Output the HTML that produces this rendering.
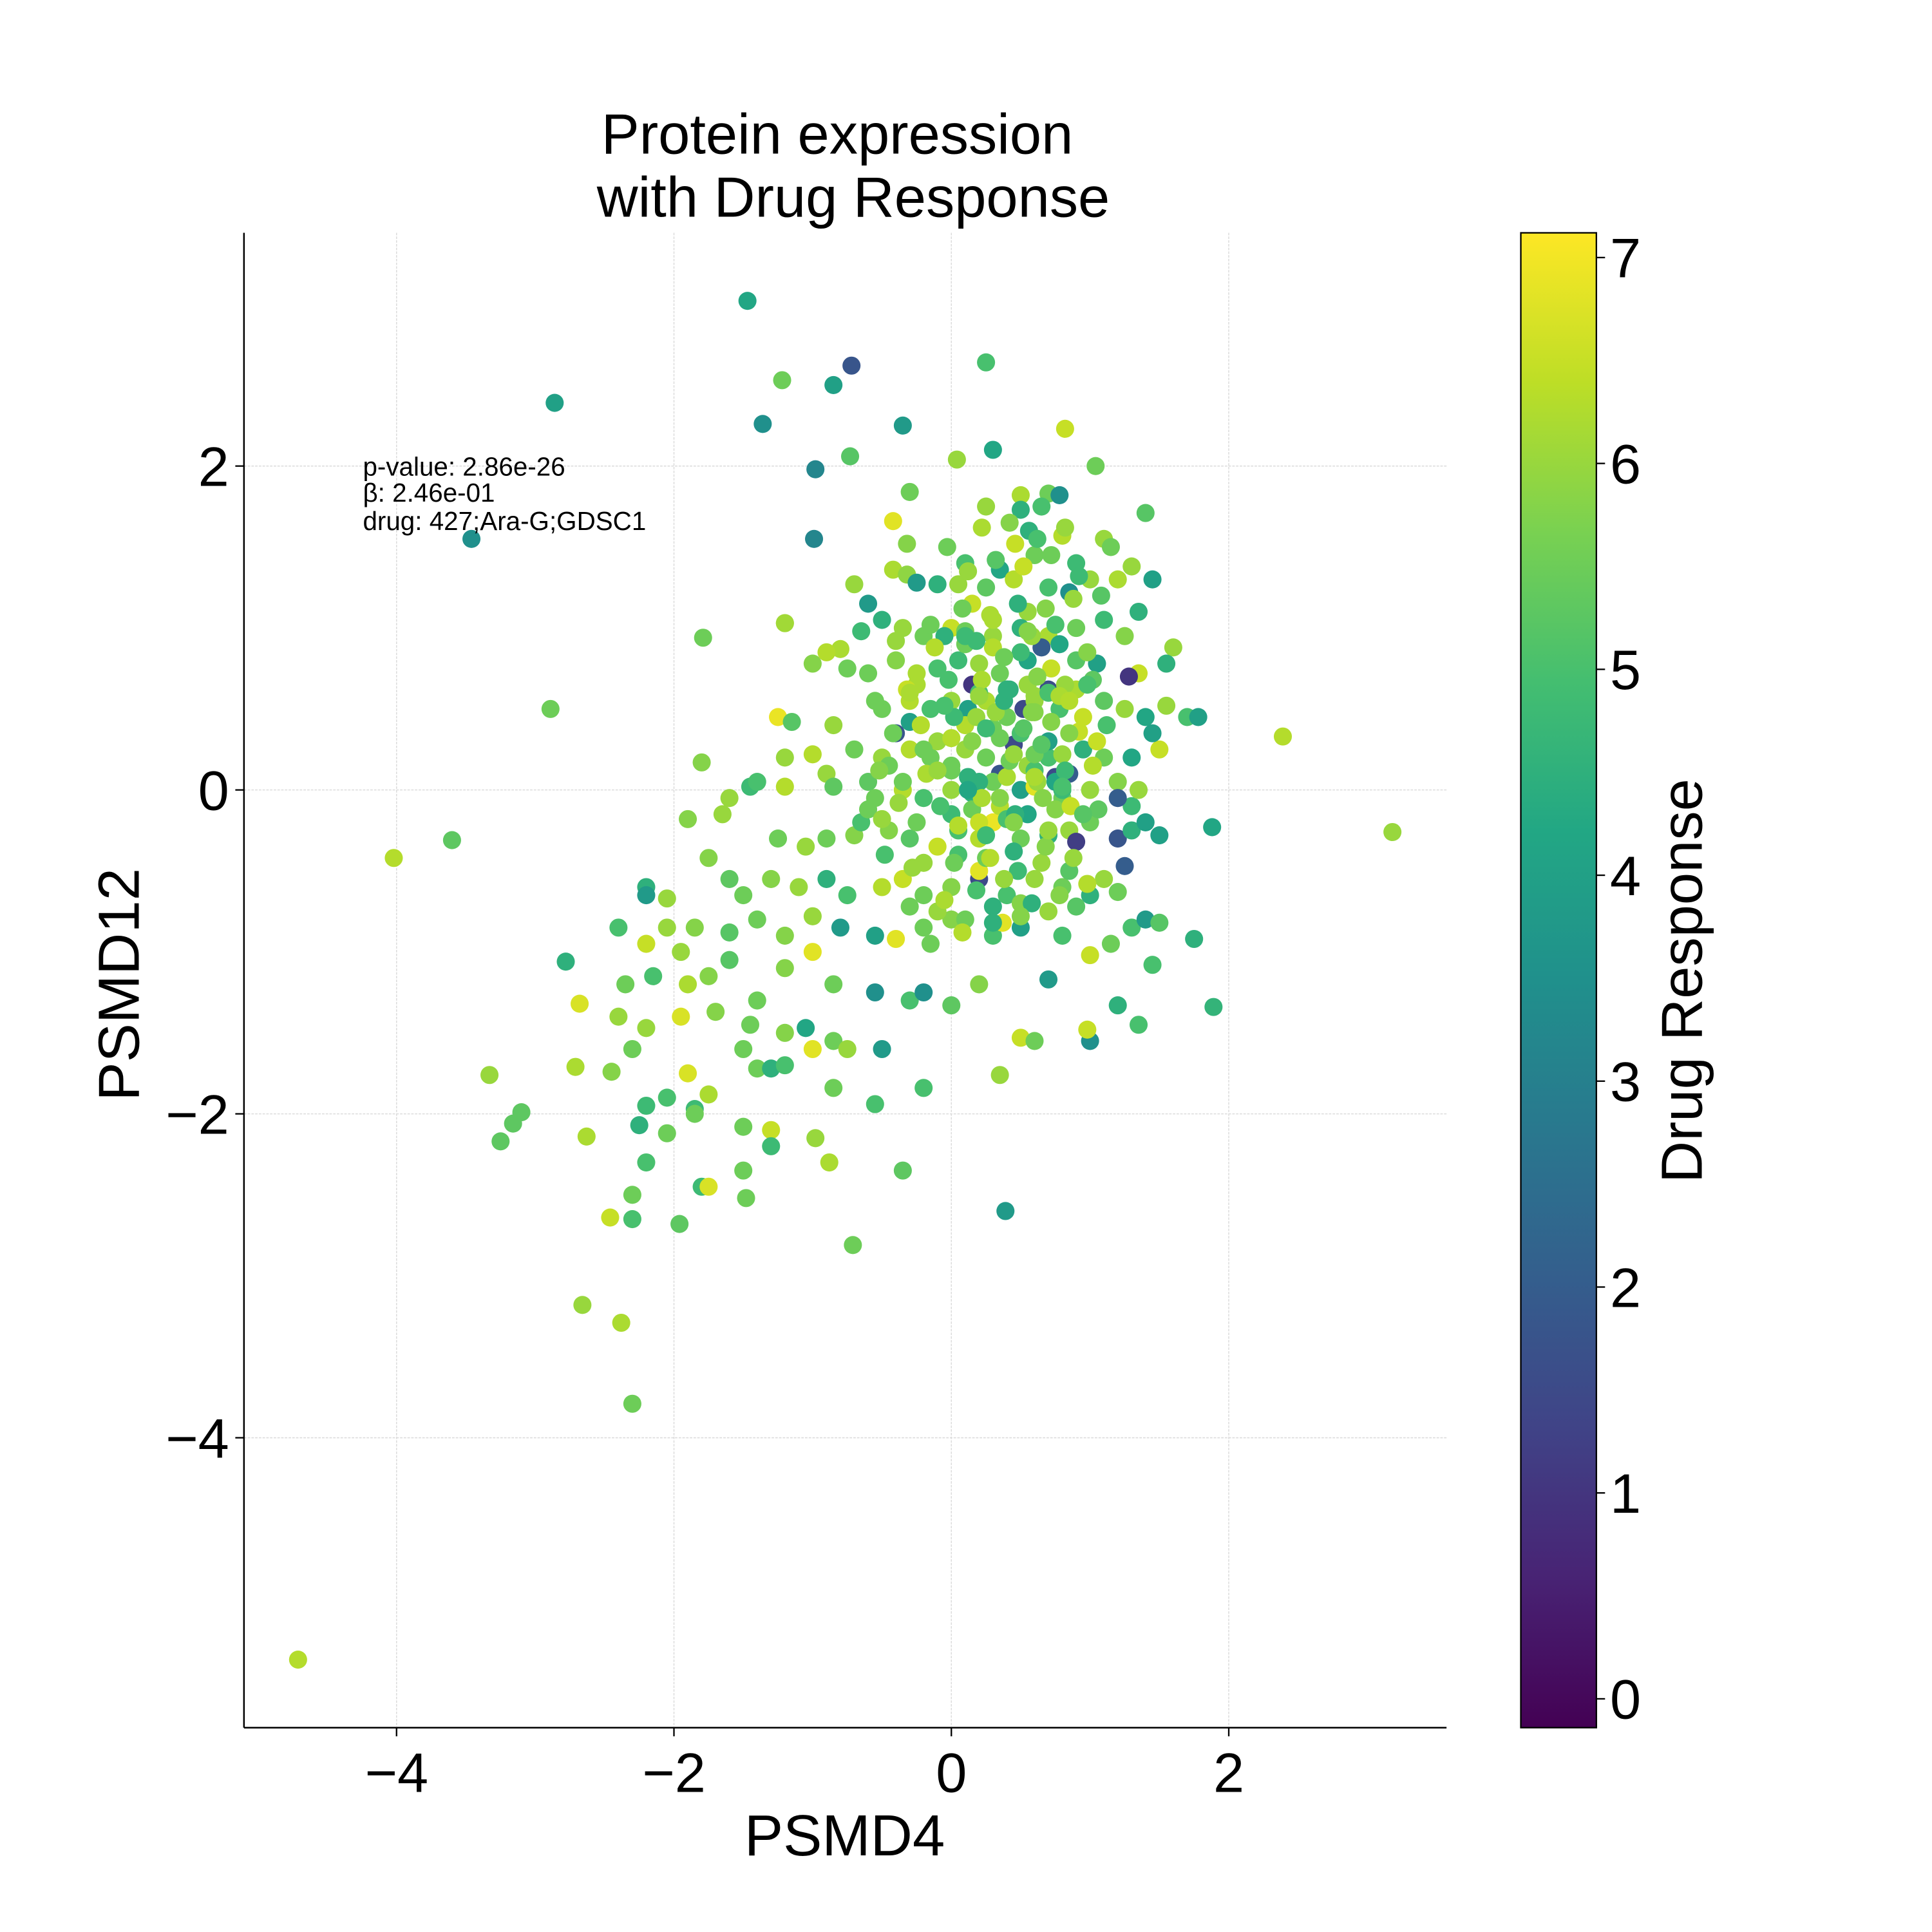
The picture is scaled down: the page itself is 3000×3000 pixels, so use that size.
<!DOCTYPE html>
<html><head><meta charset="utf-8"><style>
html,body{margin:0;padding:0;background:#fff}
svg{display:block}
text{font-family:"Liberation Sans",sans-serif;fill:#000}
</style></head><body>
<svg id="chart" width="3000" height="3000" viewBox="0 0 1560 1560" xmlns="http://www.w3.org/2000/svg">
<defs><linearGradient id="viridis" x1="0" y1="1" x2="0" y2="0"></linearGradient></defs>
<rect width="1560" height="1560" fill="#fff"/>
<g id="grid"></g>
<g id="points"></g>
<g id="axes"></g>
<text x="676" y="124" font-size="46" text-anchor="middle">Protein expression</text>
<text x="689" y="175" font-size="46" text-anchor="middle">with Drug Response</text>
<text x="682" y="1498" font-size="47" text-anchor="middle">PSMD4</text>
<text x="112" y="795" font-size="47" text-anchor="middle" transform="rotate(-90 112 795)">PSMD12</text>
<g font-size="21">
<text x="293" y="384">p-value: 2.86e-26</text>
<text x="293" y="405">β: 2.46e-01</text>
<text x="293" y="428">drug: 427;Ara-G;GDSC1</text>
</g>
<g id="cbar"></g>
<text x="1374" y="792" font-size="47" text-anchor="middle" transform="rotate(-90 1374 792)">Drug Response</text>
</svg>
<script>
const xs=[-4.71,-4.02,-3.6,-3.46,-2.86,-2.89,-1.47,-1.22,-0.72,-0.85,-1.36,0.25,-0.73,-0.98,-0.99,-0.35,0.04,0.3,0.82,1.04,2.39,3.18,1.88,1.89,0.39,-0.71,-2.3,-2.38,-2.66,-2.46,-1.96,-3.25,-3.16,-3.1,-3.33,-2.63,-2.71,-2.78,-2.68,-1.79,-1.2,
0.7,0.5,0.78,-0.3,0.65,0.25,1.4,0.5,0.8,
-0.42,-0.32,0.46,0.56,1.1,1.15,-0.03,0.1,0.6,0.9,1.3,0.35,
-0.7,-0.42,-0.32,-0.25,-0.1,0.05,0.25,0.45,0.7,0.85,1.0,1.2,1.45,-0.6,0.15,0.55,
-1.2,-0.5,-0.35,-0.2,0.0,0.1,0.3,0.5,0.7,0.9,1.1,1.35,1.25,-0.8,-0.65,-1.0,-0.9,
-0.6,-0.4,-0.25,-0.1,0.05,0.2,0.35,0.55,0.72,0.9,1.05,1.35,1.6,1.55,-0.75,0.15,0.65,
-1.25,-1.15,-0.85,-0.5,-0.3,-0.15,0.0,0.12,0.25,0.4,0.52,0.6,0.78,0.95,1.1,1.25,1.4,1.55,1.7,1.78,-0.3,0.7,1.28,
-1.8,-1.45,-1.4,-1.2,-1.0,-0.7,-0.5,-0.4,-0.3,-0.15,0.0,0.1,0.25,0.45,0.55,0.7,0.85,0.95,1.1,1.3,1.5,1.45,-0.9,-0.6,0.35,0.75,
-1.6,-1.2,-0.85,-0.55,-0.35,-0.2,0.0,0.15,0.3,0.5,0.6,0.8,1.0,1.2,1.3,1.35,1.2,
-1.9,-1.65,-1.25,-1.05,-0.9,-0.7,-0.45,-0.3,-0.1,0.05,0.2,0.3,0.5,0.7,0.85,1.0,1.2,1.3,1.4,1.5,1.25,0.2,0.9,
-2.2,-2.2,-2.05,-1.75,-1.6,-1.5,-1.3,-1.1,-0.9,-0.75,-0.5,-0.35,-0.2,0.0,0.2,0.4,0.6,0.8,1.0,1.2,1.1,
-2.4,-2.2,-2.05,-1.85,-1.6,-1.4,-1.2,-1.0,-0.8,-0.55,-0.4,-0.2,0.0,0.3,0.37,0.5,0.8,1.0,1.15,1.3,1.4,1.5,1.75,
-2.35,-2.15,-1.95,-1.9,-1.75,-1.6,-1.4,-1.2,-1.0,-0.85,-0.55,-0.3,-0.2,0.0,0.2,0.5,0.7,1.0,0.98,1.35,1.45,1.2,
-2.4,-2.2,-1.95,-1.7,-1.45,-1.2,-1.05,-0.85,-0.5,-0.75,-1.0,0.35,0.6,
-2.45,-2.3,-2.2,-2.05,-1.9,-1.85,-1.75,-1.5,-1.4,-1.3,-1.2,-0.85,-0.55,-0.2,
-2.25,-2.05,-1.85,-1.5,-1.3,-1.3,-0.98,-0.88,-0.35,-2.2,-2.3,-2.3,-1.8,-1.75,-1.48,-1.5,
0.2,0.4,0.6,0.1,0.3,0.5,0.7,-0.1,0.0,0.2,0.4,0.6,0.8,0.15,0.35,0.55,0.75,-0.2,0.05,0.25,0.45,0.65,0.85,0.1,0.3,0.5,0.7,0.9,-0.05,0.15,0.35,0.55,0.75,0.2,0.4,0.6,0.8,0.0,-0.25,-0.45,-0.65,-0.1,0.1,0.3,0.5,
0.08,0.28,0.48,0.68,0.88,1.08,-0.12,0.18,0.38,0.58,0.78,0.98,-0.32,-0.02,0.22,0.42,0.62,0.82,1.02,-0.42,-0.22,0.02,0.32,0.52,0.72,0.92,1.12,-0.52,-0.18,0.12,0.42,0.62,0.82,1.02,-0.6,-0.38,-0.08,0.22,0.46,0.66,0.86,1.06,-0.48,-0.28,0.02,0.28,0.48,0.68,0.88,-0.3,-0.05,0.18,0.38,0.58,0.78,0.98,0.12,0.32,0.52,0.72,0.92,0.22,0.42,0.62,0.82,-0.15,0.08,0.3,0.5,0.7,0.9,
0.18,0.38,0.58,0.78,0.98,-0.2,0.0,0.25,0.45,0.65,0.85,1.05,-0.35,-0.1,0.12,0.35,0.6,0.8,-0.5,-0.25,0.05,0.25,0.45,0.7,0.95,-0.55,-0.3,-0.05,0.2,0.4,0.6,0.85,-0.4,-0.15,0.1,0.3,0.55,0.75];
const ys=[-5.37,-0.42,-0.31,1.55,2.39,0.5,3.02,2.53,2.62,2.5,2.26,2.64,2.06,1.98,1.55,2.25,2.04,2.1,2.23,2.0,0.33,-0.26,-0.23,-1.34,-2.6,-2.81,-3.79,-3.29,-3.18,-2.64,-2.68,-2.17,-2.06,-1.99,-1.76,-2.14,-1.71,-1.06,-1.32,0.94,1.03,
1.83,1.82,1.82,1.84,1.75,1.75,1.71,1.73,1.57,
1.66,1.52,1.52,1.6,1.55,1.5,1.5,1.4,1.45,1.4,1.38,1.36,
1.27,1.36,1.33,1.28,1.27,1.27,1.25,1.3,1.25,1.22,1.3,1.3,1.3,1.15,1.15,1.1,
1.03,1.05,1.0,0.95,1.0,0.98,0.95,1.0,0.95,1.0,1.05,1.1,0.95,0.87,0.98,0.78,0.85,
0.72,0.8,0.72,0.75,0.8,0.78,0.72,0.8,0.75,0.8,0.78,0.72,0.88,0.78,0.75,0.65,0.88,
0.45,0.42,0.4,0.5,0.55,0.5,0.55,0.5,0.55,0.45,0.5,0.55,0.5,0.45,0.55,0.5,0.45,0.52,0.45,0.45,0.42,0.62,0.7,
0.17,0.02,0.05,0.2,0.22,0.25,0.2,0.35,0.25,0.2,0.15,0.25,0.2,0.28,0.15,0.2,0.1,0.25,0.2,0.2,0.25,0.35,0.1,0.05,0.1,0.08,
-0.05,0.02,0.02,-0.05,0.0,-0.05,0.0,-0.02,0.05,0.0,0.02,-0.05,0.0,0.05,-0.1,0.0,-0.05,
-0.18,-0.15,-0.3,-0.35,-0.3,-0.28,-0.25,-0.3,-0.35,-0.25,-0.3,-0.2,-0.3,-0.28,-0.25,-0.2,-0.3,-0.25,-0.2,-0.28,-0.47,-0.55,-0.32,
-0.6,-0.65,-0.67,-0.42,-0.55,-0.65,-0.55,-0.6,-0.55,-0.65,-0.6,-0.55,-0.65,-0.6,-0.5,-0.65,-0.55,-0.6,-0.65,-0.63,-0.55,
-0.85,-0.95,-0.85,-0.85,-0.88,-0.8,-0.9,-0.78,-0.85,-0.9,-0.92,-0.85,-0.8,-0.9,-0.82,-0.85,-0.9,-1.02,-0.95,-0.85,-0.8,-0.82,-0.92,
-1.2,-1.15,-1.0,-1.2,-1.15,-1.05,-1.3,-1.1,-1.0,-1.2,-1.25,-1.3,-1.25,-1.33,-1.2,-1.53,-1.17,-1.55,-1.48,-1.45,-1.08,-1.33,
-1.4,-1.47,-1.4,-1.37,-1.45,-1.5,-1.47,-1.55,-1.6,-1.6,-1.6,-1.76,-1.55,
-1.74,-1.6,-1.95,-1.9,-1.75,-1.97,-1.88,-1.6,-1.72,-1.72,-1.7,-1.84,-1.94,-1.84,
-2.07,-2.12,-2.0,-2.08,-2.1,-2.2,-2.15,-2.3,-2.35,-2.3,-2.5,-2.65,-2.45,-2.45,-2.52,-2.35,
0.6,0.62,0.58,0.4,0.38,0.35,0.3,0.3,0.12,0.05,0.08,0.12,0.0,-0.12,-0.1,-0.15,-0.12,-0.45,-0.4,-0.42,-0.38,-0.45,-0.5,0.9,0.88,0.85,0.6,0.62,0.95,0.3,0.32,0.65,0.05,-0.2,-0.18,0.22,0.22,-0.15,0.65,0.15,-0.2,-0.75,-0.8,-0.72,-0.7,
1.12,1.08,1.15,1.12,1.18,1.2,0.88,0.92,0.82,0.95,0.9,0.85,0.62,0.68,0.68,0.62,0.7,0.65,0.68,0.35,0.4,0.45,0.48,0.38,0.42,0.36,0.4,0.12,0.1,0.08,0.18,0.05,0.12,0.15,-0.12,-0.08,-0.1,-0.05,-0.15,-0.05,-0.1,-0.12,-0.4,-0.48,-0.45,-0.42,-0.5,-0.35,-0.42,-0.72,-0.68,-0.62,-0.55,-0.7,-0.65,-0.58,1.35,1.42,1.38,1.45,1.32,1.62,1.65,1.55,1.62,-0.95,-0.88,-0.82,-0.78,-0.75,-0.72,
0.45,0.55,0.48,0.58,0.65,0.25,0.32,0.38,0.22,0.28,0.35,0.3,0.05,0.12,0.0,-0.05,0.08,0.02,-0.18,-0.2,-0.22,-0.28,-0.2,-0.25,-0.15,0.55,0.6,0.52,0.58,0.62,0.48,0.55,0.92,1.02,0.95,1.05,0.98,1.02];
const cs=[6.3,6.3,5.3,3.5,4.0,5.5,4.2,5.5,1.8,4.0,3.5,5.0,5.2,3.2,3.2,3.8,6.0,4.2,6.5,5.5,6.3,6.0,4.2,4.6,3.8,5.5,5.5,6.2,6.0,6.5,5.3,5.3,5.3,5.3,6.0,6.2,6.2,4.5,6.7,5.5,6.1,
5.5,6.2,3.5,5.5,5.0,6.0,5.2,4.5,6.3,
6.8,5.8,6.5,4.5,6.0,5.5,5.5,5.0,5.5,4.8,6.0,4.2,
6.0,6.2,5.9,3.8,4.5,6.0,5.3,6.3,5.0,3.5,6.0,6.2,4.0,3.8,6.5,6.0,
6.1,4.5,6.0,5.5,6.5,5.5,6.0,4.5,6.2,5.5,4.8,4.5,5.8,6.2,4.8,5.8,6.3,
5.5,5.8,6.2,5.0,4.8,6.0,5.5,4.2,6.5,5.2,4.0,6.5,6.0,4.5,5.5,1.0,2.0,
6.9,5.2,6.0,5.5,6.3,5.0,6.0,4.0,6.2,5.5,1.5,6.0,5.0,6.5,5.3,6.0,4.2,6.0,5.0,4.0,4.0,1.6,1.0,
5.8,4.8,5.0,6.0,6.3,5.5,6.0,1.8,6.3,5.5,5.5,6.0,5.5,1.5,6.0,5.0,2.0,4.5,5.5,4.2,6.5,4.0,6.0,5.3,1.8,1.5,
6.0,6.3,5.3,5.5,6.3,5.0,6.0,4.5,5.5,4.0,6.8,5.5,6.0,5.8,4.8,6.0,2.0,
5.8,6.0,5.5,6.0,5.5,5.8,5.8,5.2,6.5,5.0,6.3,6.9,5.5,4.5,6.0,5.5,1.8,4.5,4.0,4.0,2.0,1.5,1.2,
4.5,3.8,6.0,5.8,5.3,5.5,5.8,6.0,4.5,5.0,6.3,6.5,5.5,5.8,6.8,5.0,6.0,5.5,4.5,5.5,6.0,
5.0,6.5,6.0,5.8,5.2,5.5,5.8,6.0,3.8,4.0,6.8,5.5,5.8,5.0,6.8,4.0,5.0,6.5,5.5,5.0,3.8,5.2,4.5,
5.5,5.0,6.0,6.2,5.8,5.2,5.5,5.8,6.8,5.5,3.5,5.0,3.5,5.3,5.8,6.5,3.8,3.5,6.5,5.0,5.0,4.5,
6.0,6.0,6.7,5.8,5.5,5.8,4.2,5.5,3.8,6.0,6.8,6.0,5.5,
5.8,5.5,4.8,5.0,6.7,4.8,6.2,5.5,5.5,4.5,5.0,5.5,5.0,5.0,
4.5,5.5,5.5,5.5,6.5,4.8,6.0,6.2,5.3,5.0,5.5,5.0,4.8,6.7,5.5,5.5,
5.0,4.5,6.0,6.3,5.5,5.0,4.0,6.0,5.5,4.5,6.2,5.0,4.8,5.5,6.3,4.2,5.8,6.0,5.0,5.5,4.5,6.0,5.2,5.5,6.3,4.8,5.0,6.2,4.5,5.8,5.5,6.0,4.2,6.5,5.0,5.5,6.0,4.8,6.2,5.5,5.0,6.0,5.5,4.5,5.8,
5.5,6.2,4.5,5.8,6.0,5.2,6.3,4.8,5.5,6.0,4.2,5.8,6.5,5.0,6.2,4.5,5.8,6.0,5.3,5.5,6.3,4.8,6.0,5.2,5.8,6.5,5.0,5.8,6.2,4.5,5.5,6.0,4.8,6.3,5.5,6.0,5.0,6.2,4.5,5.8,6.5,5.3,5.0,6.0,5.5,6.3,4.8,5.8,6.0,5.5,6.2,5.0,6.0,4.5,5.8,6.3,6.0,5.2,6.5,5.5,4.8,6.2,5.8,5.0,6.0,5.5,6.3,4.5,5.8,6.0,5.2,
6.0,4.5,5.8,6.2,5.0,5.5,6.3,4.8,6.0,5.2,5.8,6.5,5.5,6.0,4.2,5.8,6.2,5.0,6.0,5.5,6.3,4.8,5.8,6.0,5.2,5.5,6.2,5.0,6.0,4.5,5.8,6.3,6.0,5.5,4.8,6.2,5.8,5.0];
const xTicks=[-4,-2,0,2], yTicks=[-4,-2,0,2], cTicks=[0,1,2,3,4,5,6,7];
const X0=197,X1=1168,Y0=188,Y1=1395;
const xMin=-5.1,xMax=3.57,yMin=-5.79,yMax=3.44,cMin=-0.14,cMax=7.12;
const sx=v=>X0+(v-xMin)/(xMax-xMin)*(X1-X0);
const sy=v=>Y1-(v-yMin)/(yMax-yMin)*(Y1-Y0);
const V=[[68,1,84],[72,35,116],[64,67,135],[52,94,141],[41,120,142],[32,144,140],[34,167,132],[68,190,112],[121,209,81],[189,222,38],[253,231,37]];
function vir(t){t=Math.max(0,Math.min(1,t))*10;const i=Math.min(9,Math.floor(t)),f=t-i;const a=V[i],b=V[i+1];return `rgb(${a.map((v,k)=>Math.round(v+(b[k]-v)*f)).join(',')})`;}
const NS="http://www.w3.org/2000/svg";
function mk(tag,attrs,parent){const e=document.createElementNS(NS,tag);for(const k in attrs)e.setAttribute(k,attrs[k]);parent.appendChild(e);return e;}
const grid=document.getElementById('grid'),axes=document.getElementById('axes'),pts=document.getElementById('points'),cbar=document.getElementById('cbar');
xTicks.forEach(t=>{const l=mk('line',{x1:sx(t),x2:sx(t),y1:Y0,y2:Y1,stroke:'#dcdcdc','stroke-width':0.8,'stroke-dasharray':'2,1'},grid);


mk('line',{x1:sx(t),x2:sx(t),y1:Y1,y2:Y1+7,stroke:'#000','stroke-width':1.2},axes);
const tx=mk('text',{x:sx(t),y:Y1+52,'font-size':45,'text-anchor':'middle'},axes);tx.textContent=(t<0?'\u2212'+(-t):t);

});
yTicks.forEach(t=>{const l=mk('line',{x1:X0,x2:X1,y1:sy(t),y2:sy(t),stroke:'#dcdcdc','stroke-width':0.8,'stroke-dasharray':'2,1'},grid);


mk('line',{x1:X0-7,x2:X0,y1:sy(t),y2:sy(t),stroke:'#000','stroke-width':1.2},axes);
const tx=mk('text',{x:X0-12,y:sy(t)+16,'font-size':45,'text-anchor':'end'},axes);tx.textContent=(t<0?'\u2212'+(-t):t);

});
mk('line',{x1:X0,x2:X0,y1:Y0,y2:Y1,stroke:'#000','stroke-width':1.3},axes);
mk('line',{x1:X0,x2:X1,y1:Y1,y2:Y1,stroke:'#000','stroke-width':1.3},axes);
for(let i=0;i<xs.length;i++){const c=mk('circle',{cx:sx(xs[i]),cy:sy(ys[i]),r:7.3,fill:vir((cs[i]-cMin)/(cMax-cMin))},pts);

}
const g=document.getElementById('viridis');V.forEach((v,i)=>mk('stop',{offset:i/10,'stop-color':`rgb(${v.join(',')})`},g));
const CX0=1228,CX1=1289;
const cy=v=>Y1-(v-cMin)/(cMax-cMin)*(Y1-Y0);
const cr=mk('rect',{x:CX0,y:Y0,width:CX1-CX0,height:Y1-Y0,fill:'url(#viridis)',stroke:'#000','stroke-width':1.2},cbar);


cTicks.forEach(t=>{mk('line',{x1:CX1,x2:CX1+7,y1:cy(t),y2:cy(t),stroke:'#000','stroke-width':1.2},cbar);
const tx=mk('text',{x:CX1+11,y:cy(t)+16,'font-size':45},cbar);tx.textContent=t;

});
</script>
</body></html>
